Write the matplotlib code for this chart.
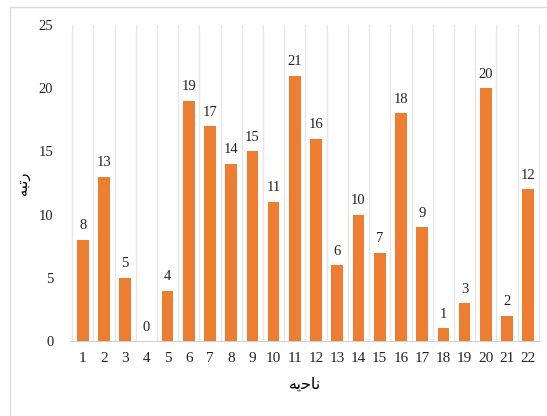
import matplotlib.pyplot as plt
import numpy as np
from matplotlib.patches import Rectangle

# Data
districts = [str(i) for i in range(1, 23)]
ranks = [8, 13, 5, 0, 4, 19, 17, 14, 15, 11, 21, 16, 6, 10, 7, 18, 9, 1, 3, 20, 2, 12]
y_ticks = [0, 5, 10, 15, 20, 25]

# Arabic-script labels given in presentation forms (visual order)
x_label = "\uFEEA\uFBFE\uFEA3\uFE8E\uFEE7"   # ناحیه
y_label = "\uFEEA\uFE92\uFE97\uFEAD"         # رتبه

plt.rcParams['font.family'] = ['Liberation Serif', 'DejaVu Sans']

fig = plt.figure(figsize=(5.47, 4.16), dpi=100)
ax = fig.add_axes([0.128, 0.18, 0.859, 0.76])

x = np.arange(len(districts))
ax.bar(x, ranks, width=0.55, color='#ED7D31', zorder=3)

for xi, v in zip(x, ranks):
    ax.text(xi, v + 0.6, str(v), ha='center', va='bottom', fontsize=10.5, color='#222222')

ax.set_xlim(-0.6, len(districts) - 0.45)
ax.set_ylim(0, 25)
ax.set_xticks(x)
ax.set_xticklabels(districts, fontsize=11, color='#222222')
ax.set_yticks(y_ticks)
ax.set_yticklabels([str(t) for t in y_ticks], fontsize=10.5, color='#222222')
ax.set_xticks(np.arange(-0.5, len(districts), 1.0), minor=True)
ax.grid(which='minor', axis='x', color='#e6e6e6', linewidth=1.0, zorder=0)
ax.tick_params(which='both', length=0)
ax.tick_params(axis='y', pad=12)
ax.tick_params(axis='x', pad=8)

for s in ['top', 'right', 'left']:
    ax.spines[s].set_visible(False)
ax.spines['bottom'].set_color('#d0d0d0')

ax.set_xlabel(x_label, fontsize=11.5, labelpad=8, family=['DejaVu Sans'])
ax.set_ylabel(y_label, fontsize=10.5, labelpad=6, family=['DejaVu Sans'])

# outer chart frame
fig.patches.append(Rectangle((0.018, -0.01), 1.0, 0.993, transform=fig.transFigure,
                             fill=False, edgecolor='#d9d9d9', linewidth=1.0))

fig.savefig('out.png', dpi=100)
